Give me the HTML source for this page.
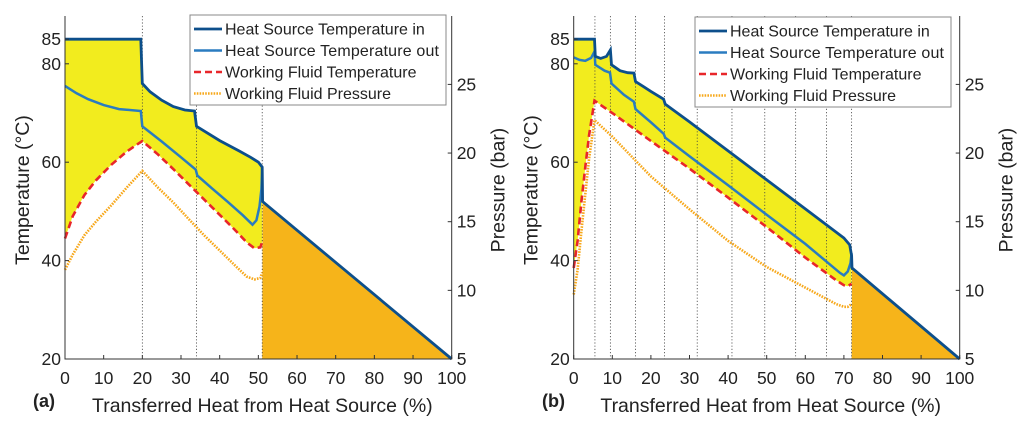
<!DOCTYPE html>
<html><head><meta charset="utf-8"><style>
html,body{margin:0;padding:0;background:#fff;}
svg{display:block;font-family:"Liberation Sans",Arial,sans-serif;}
</style></head><body>
<svg id="chart" width="1024" height="421" viewBox="0 0 1024 421" xmlns="http://www.w3.org/2000/svg"></svg>
<script>
// ---- Panel (a) data ----
const aInX  = [0,19.6,20,22,25,28,31,33.5,34,40,45,48,50,51,51.1,100];
const aInT  = [85,85,76,74.3,72.6,71.3,70.6,70.4,67.3,64.4,62.3,61,60,59,52,20];
const aOutX = [0,3,6,10,14,19.6,20,25,30,33.8,34.2,38,42,46,48.5,49.5,50.3,50.8,51];
const aOutT = [75.5,74,72.8,71.6,70.8,70.4,67.3,64.2,61,58.5,57.3,54.7,52,49.2,47.3,48.2,51,54.5,59];
const aWfX  = [0,2,5,8,12,16,20,24,28,32,36,40,44,47,49,50.5,51];
const aWfT  = [44.5,49,53.3,56.3,59.5,62.2,64.3,61.6,58.6,55.5,52.4,49.3,46.2,43.7,42.5,42.7,43.8];
const aPX   = [0,2,5,8,12,16,20,24,28,32,36,40,44,47,49,50.5,51];
const aPV   = [11.5,12.6,14,15,16.2,17.5,18.7,17.5,16.4,15.2,14,12.9,11.8,11,10.8,10.9,11.3];
const aDiv  = [20,34,51];
// ---- Panel (b) data ----
const bInX  = [0,5.4,5.6,7,8.5,9.5,9.8,12,14,15.6,16,18,20,23.3,23.7,30,40,50,60,70,71.5,72,72.1,100];
const bInT  = [85,85,81.5,81.1,81.5,82.8,79.8,78.6,78.2,78.1,76.4,75.4,74.4,72.8,71.8,68.2,62.3,56.4,50.5,44.6,43.2,41,38.5,20];
const bOutX = [0,1.5,3,4.5,5.4,5.6,8,9.4,9.8,13,15.6,16,20,23.3,23.7,30,40,50,60,69,70,71,71.7,72];
const bOutT = [81.3,80.8,80.6,81.2,82.5,79.8,78.6,78.2,76,73.7,72.3,70.8,68.1,65.8,65,61.2,55.3,49.3,43.4,37.5,37,37.8,39.5,41.5];
const bWfX  = [0,1,2,3,4,5.4,10,20,30,40,50,60,68,70,71,72];
const bWfT  = [38.5,44,52,59,65.5,72.5,70,64.3,58.7,52.8,46.8,40.6,36,35,34.8,35.3];
const bPX   = [0,1,2,3,4,5.4,10,20,30,40,50,60,68,70,71,72];
const bPV   = [9.7,11.5,14.3,17,19.6,22.4,21.2,18.3,15.9,13.6,11.7,10.2,9,8.8,8.8,9];
const bDiv  = [5.5,9.5,16,23.5,32,41,49.5,57.5,65.5,72];
// ---- Axis tick labels ----
const xTicks = [0,10,20,30,40,50,60,70,80,90,100];
const tTicks = [20,40,60,80,85];
const pTicks = [5,10,15,20,25];
const legendLabels = ["Heat Source Temperature in","Heat Source Temperature out","Working Fluid Temperature","Working Fluid Pressure"];

const NS="http://www.w3.org/2000/svg";
const svg=document.getElementById('chart');
function mk(tag,attrs,parent){const e=document.createElementNS(NS,tag);for(const k in attrs)e.setAttribute(k,attrs[k]);(parent||svg).appendChild(e);return e;}

function panel(cfg){
  const x0=cfg.x0,x1=cfg.x1,yBot=359,yTop=16;
  const X=v=>x0+(x1-x0)*v/100;
  const T=v=>yBot-(v-20)*4.92;
  const P=v=>yBot-(v-5)*13.73;
  const g=mk('g',{});
  
  
  const pts=(xs,ys,f)=>xs.map((x,i)=>X(x).toFixed(1)+','+f(ys[i]).toFixed(1));
  const yEnd=cfg.inX.findIndex(x=>x>cfg.split);
  const inPart=pts(cfg.inX.slice(0,yEnd),cfg.inT.slice(0,yEnd),T);
  const wfPart=pts(cfg.wfX,cfg.wfT,T).reverse();
  const yf=mk('polygon',{points:inPart.concat(wfPart).join(' '),fill:'#f2ec1e'},g);
  
  
  const oPart=pts(cfg.inX.slice(yEnd),cfg.inT.slice(yEnd),T);
  oPart.push(X(100).toFixed(1)+','+T(20),X(cfg.split).toFixed(1)+','+T(20));
  const of=mk('polygon',{points:oPart.join(' '),fill:'#f6b41a'},g);
  
  
  cfg.div.forEach(d=>{
    const l=mk('line',{x1:X(d),x2:X(d),y1:yTop,y2:yBot,stroke:'#444','stroke-width':0.8,'stroke-dasharray':'1.2,2'},g);
    
    
  });
  const pP=mk('polyline',{points:pts(cfg.pX,cfg.pV,P).join(' '),fill:'none',stroke:'#f7a81b','stroke-width':2.6,'stroke-dasharray':'1.6,1.2'},g);
  
  
  const wf=mk('polyline',{points:pts(cfg.wfX,cfg.wfT,T).join(' '),fill:'none',stroke:'#e8262a','stroke-width':2.6,'stroke-dasharray':'7,4'},g);
  
  
  const ho=mk('polyline',{points:pts(cfg.outX,cfg.outT,T).join(' '),fill:'none',stroke:'#2a7cc0','stroke-width':2.5},g);
  
  
  const hi=mk('polyline',{points:pts(cfg.inX,cfg.inT,T).join(' '),fill:'none',stroke:'#0d4f8b','stroke-width':2.8},g);
  
  
  const ax=mk('path',{d:`M${x0},${yTop}V${yBot}H${x1}V${yTop}`,fill:'none',stroke:'#333','stroke-width':1},g);
  
  
  xTicks.forEach(t=>{
    mk('line',{x1:X(t),x2:X(t),y1:yBot,y2:yBot-4,stroke:'#333'},g);
    const tx=mk('text',{x:X(t),y:yBot+25,'font-size':17.5,'text-anchor':'middle',fill:'#222'},g);
    tx.textContent=t;
    
    
  });
  tTicks.forEach(t=>{
    mk('line',{x1:x0,x2:x0+4,y1:T(t),y2:T(t),stroke:'#333'},g);
    const tx=mk('text',{x:x0-4,y:T(t)+6,'font-size':17.5,'text-anchor':'end',fill:'#222'},g);
    tx.textContent=t;
    
    
  });
  pTicks.forEach(t=>{
    mk('line',{x1:x1,x2:x1-4,y1:P(t),y2:P(t),stroke:'#333'},g);
    const tx=mk('text',{x:x1+5,y:P(t)+6,'font-size':17.5,'text-anchor':'start',fill:'#222'},g);
    tx.textContent=t;
    
    
  });
  const yl=mk('text',{transform:`translate(${x0-36},190) rotate(-90)`,'font-size':19.5,'text-anchor':'middle',fill:'#222'},g);
  yl.textContent='Temperature (°C)';
  
  
  const yr=mk('text',{transform:`translate(${x1+53},190) rotate(-90)`,'font-size':19.5,'text-anchor':'middle',fill:'#222'},g);
  yr.textContent='Pressure (bar)';
  
  
  const xl=mk('text',{x:(x0+x1)/2+4,y:412,'font-size':19.5,'text-anchor':'middle',fill:'#222'},g);
  xl.textContent='Transferred Heat from Heat Source (%)';
  
  
  const pl=mk('text',{x:cfg.labX,y:407,'font-size':18,'font-weight':'bold',fill:'#222'},g);
  pl.textContent=cfg.label;
  
  
  const lg=mk('g',{},g);
  
  
  mk('rect',{x:cfg.lx,y:cfg.ly,width:256,height:90,fill:'#fff',stroke:'#888','stroke-width':1},lg);
  const styles=[['#0d4f8b',2.8,''],['#2a7cc0',2.5,''],['#e8262a',2.6,'7,4'],['#f7a81b',2.6,'1.6,1.2']];
  legendLabels.forEach((lab,i)=>{
    const yy=cfg.ly+14+i*21.5;
    const e=mk('g',{},lg);
    
    
    const a={x1:cfg.lx+4,x2:cfg.lx+32,y1:yy,y2:yy,stroke:styles[i][0],'stroke-width':styles[i][1]};
    if(styles[i][2])a['stroke-dasharray']=styles[i][2];
    mk('line',a,e);
    const t=mk('text',{x:cfg.lx+35,y:yy+5.5,'font-size':16,fill:'#222',textLength:i==1?214:null},e);
    if(i!=1)t.removeAttribute('textLength');
    t.textContent=lab;
  });
}
panel({name:'panel-a',x0:65,x1:451.7,split:51,inX:aInX,inT:aInT,outX:aOutX,outT:aOutT,wfX:aWfX,wfT:aWfT,pX:aPX,pV:aPV,div:aDiv,lx:190,ly:15,label:'(a)',labX:33});
panel({name:'panel-b',x0:573.7,x1:959.7,split:72,inX:bInX,inT:bInT,outX:bOutX,outT:bOutT,wfX:bWfX,wfT:bWfT,pX:bPX,pV:bPV,div:bDiv,lx:695,ly:17,label:'(b)',labX:542});
</script>
</body></html>
